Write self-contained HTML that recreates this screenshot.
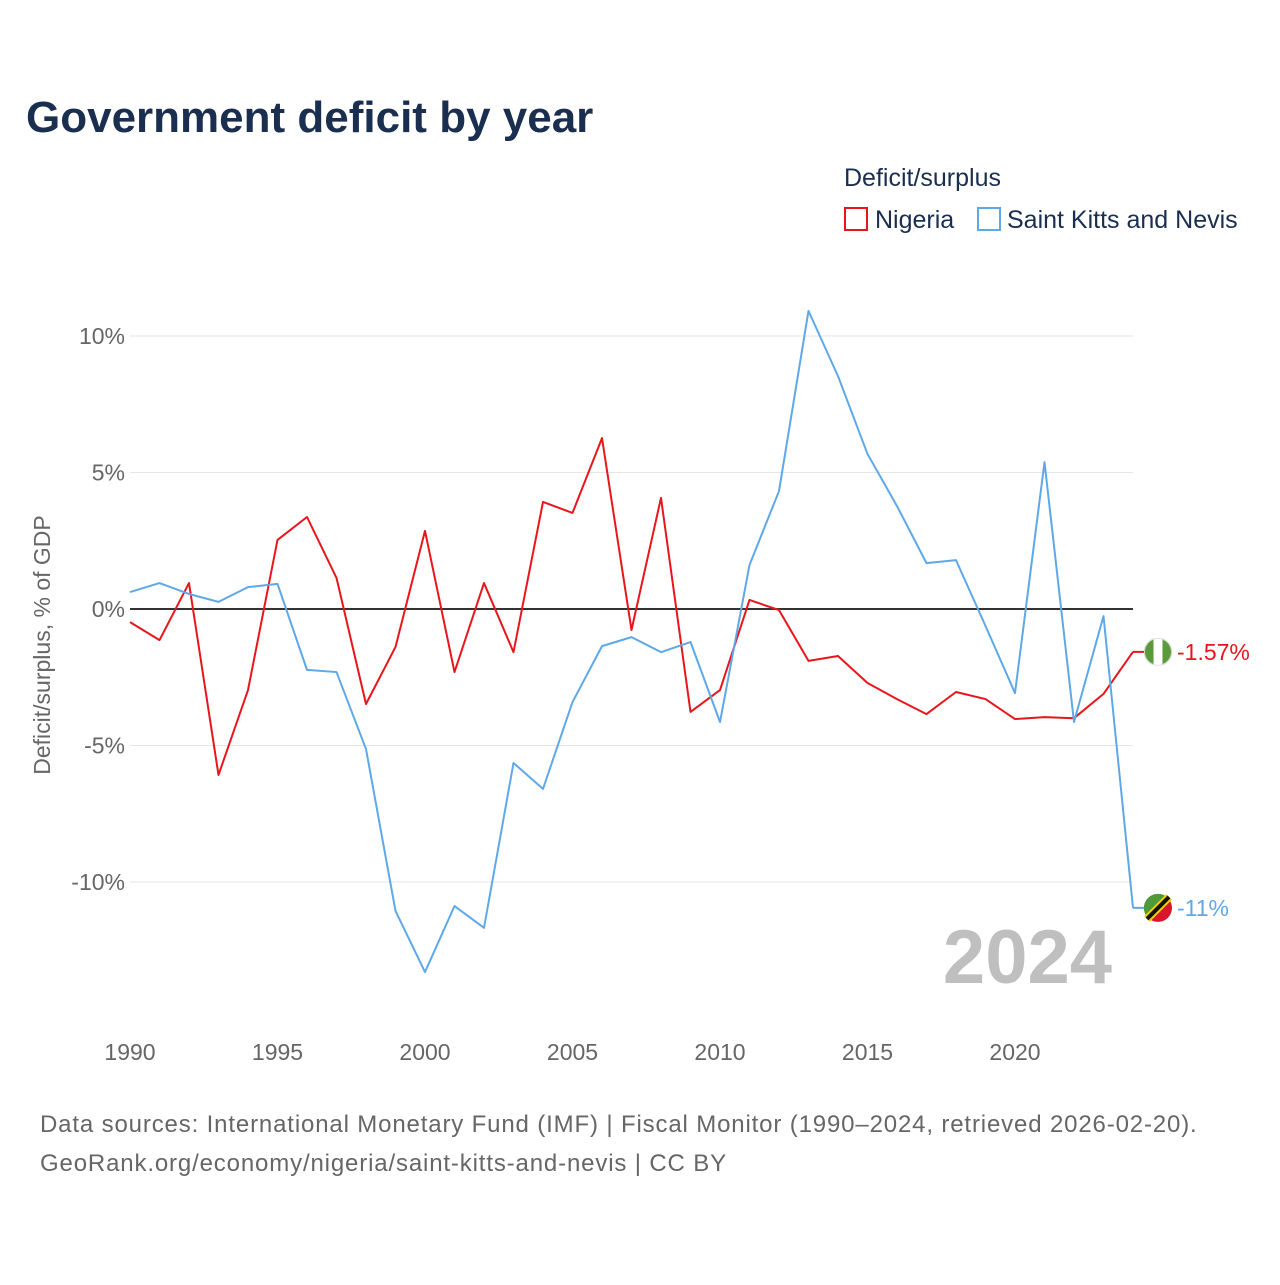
<!DOCTYPE html>
<html><head><meta charset="utf-8"><style>
body{margin:0;background:#fff;font-family:"Liberation Sans",sans-serif}
</style></head><body>
<svg width="1280" height="1280" xmlns="http://www.w3.org/2000/svg" font-family="Liberation Sans, sans-serif">
<rect width="1280" height="1280" fill="#fff"/>
<text x="26" y="132" font-size="44" font-weight="bold" fill="#1a2e4f">Government deficit by year</text>
<text x="844" y="186" font-size="25" fill="#1a2e4f">Deficit/surplus</text>
<g><rect x="845" y="208" width="22" height="22" fill="none" stroke="#e8151b" stroke-width="2"/><text x="875" y="228" font-size="25" fill="#1a2e4f">Nigeria</text></g>
<g><rect x="978" y="208" width="22" height="22" fill="none" stroke="#5fa8e8" stroke-width="2"/><text x="1007" y="228" font-size="25" fill="#1a2e4f">Saint Kitts and Nevis</text></g>
<text transform="translate(50,645) rotate(-90)" text-anchor="middle" font-size="23" fill="#666">Deficit/surplus, % of GDP</text>
<defs><clipPath id="fc"><circle cx="1158" cy="652" r="14"/></clipPath></defs>
<g id="grid"></g><g id="series"></g>
<text x="1112" y="983" text-anchor="end" font-size="76" font-weight="bold" fill="#bfbfbf">2024</text>
<text x="40" y="1132" font-size="24" letter-spacing="0.85" fill="#666">Data sources: International Monetary Fund (IMF) | Fiscal Monitor (1990–2024, retrieved 2026-02-20).</text>
<text x="40" y="1171" font-size="24" letter-spacing="0.85" fill="#666">GeoRank.org/economy/nigeria/saint-kitts-and-nevis | CC BY</text>
</svg>
<script>
const years=[1990,1991,1992,1993,1994,1995,1996,1997,1998,1999,2000,2001,2002,2003,2004,2005,2006,2007,2008,2009,2010,2011,2012,2013,2014,2015,2016,2017,2018,2019,2020,2021,2022,2023,2024];
const nigeria=[-0.48,-1.14,0.95,-6.08,-2.97,2.53,3.37,1.14,-3.48,-1.39,2.86,-2.31,0.95,-1.58,3.92,3.52,6.26,-0.77,4.07,-3.77,-2.97,0.33,-0.04,-1.9,-1.72,-2.71,-3.3,-3.85,-3.04,-3.3,-4.03,-3.96,-4.0,-3.11,-1.57];
const skn=[0.62,0.95,0.55,0.26,0.8,0.92,-2.23,-2.31,-5.13,-11.06,-13.3,-10.88,-11.68,-5.64,-6.59,-3.41,-1.36,-1.03,-1.58,-1.21,-4.14,1.61,4.32,10.92,8.53,5.68,3.77,1.68,1.79,-0.62,-3.08,5.38,-4.14,-0.26,-10.95];
const yTicks=[10,5,0,-5,-10];
const xTicks=[1990,1995,2000,2005,2010,2015,2020];
const endLabels=["-1.57%","-11%"];
const NS="http://www.w3.org/2000/svg";
const X=y=>130+(y-1990)*29.5, Y=v=>609-v*27.3;
function mk(t,a,p){const e=document.createElementNS(NS,t);for(const k in a)e.setAttribute(k,a[k]);p.appendChild(e);return e;}
const g=document.getElementById('grid'), s=document.getElementById('series');
yTicks.forEach(v=>{
 const l=mk('line',{x1:130,x2:1133,y1:Y(v),y2:Y(v),stroke:v===0?'#333':'#e6e6e6','stroke-width':v===0?2:1},g);
 
 
 const t=mk('text',{x:125,y:Y(v)+8,'text-anchor':'end','font-size':23,fill:'#666'},g);t.textContent=v+'%';
 
 
});
xTicks.forEach(v=>{
 const t=mk('text',{x:X(v),y:1060,'text-anchor':'middle','font-size':23,fill:'#666'},g);t.textContent=v;
 
 
});
[[nigeria,'#e8151b','nigeria-line',endLabels[0]],[skn,'#5fa8e8','skn-line',endLabels[1]]].forEach(([d,c,n,lab])=>{
 const p=mk('polyline',{points:d.map((v,i)=>X(years[i])+','+Y(v)).join(' '),fill:'none',stroke:c,'stroke-width':2,'stroke-linejoin':'round'},s);
 
 
 const last=d[d.length-1], ly=Y(last);
 mk('line',{x1:X(2024),x2:1150,y1:ly,y2:ly,stroke:c,'stroke-width':2},s);
 const f=mk('circle',{cx:1158,cy:ly,r:14,fill:n==='nigeria-line'?'#fff':'#d9152e'},s);
 
 
 if(n==='nigeria-line'){const gg=mk('g',{'clip-path':'url(#fc)',transform:`translate(0,${ly-652})`},s);mk('rect',{x:1144,y:638,width:9.5,height:28,fill:'#5a9a3a'},gg);mk('rect',{x:1162.5,y:638,width:9.5,height:28,fill:'#5a9a3a'},gg);mk('circle',{cx:1158,cy:652,r:13.5,fill:'none',stroke:'#ddd','stroke-width':1},gg);}
 else{mk('path',{d:`M1148 ${ly+10} A14 14 0 0 1 1168 ${ly-10} Z`,fill:'#4d9a3a'},s);mk('line',{x1:1147,y1:ly+11,x2:1169,y2:ly-11,stroke:'#f5d000','stroke-width':8},s);mk('line',{x1:1147,y1:ly+11,x2:1169,y2:ly-11,stroke:'#111','stroke-width':4},s);}
 const t=mk('text',{x:1177,y:ly+8,'font-size':23,fill:c},s);t.textContent=lab;
 
 
});
</script>
</body></html>
